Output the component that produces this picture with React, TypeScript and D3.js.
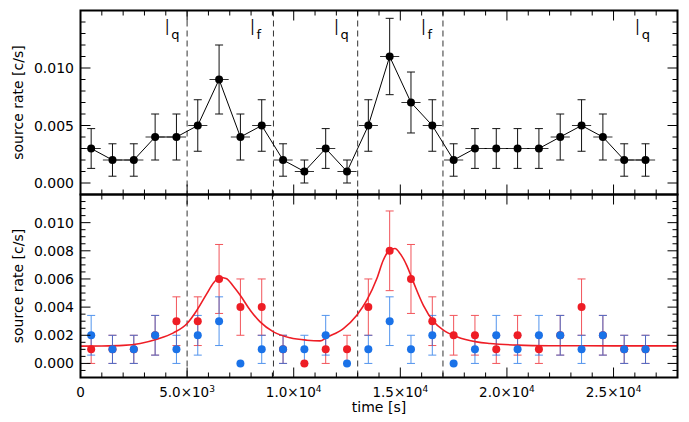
import React from "react";
import * as d3 from "d3";

const times = [500,1500,2500,3500,4500,5500,6500,7500,8500,9500,10500,11500,12500,13500,14500,15500,16500,17500,18500,19500,20500,21500,22500,23500,24500,25500,26500];
const totalRate = [0.003,0.002,0.002,0.004,0.004,0.005,0.009,0.004,0.005,0.002,0.001,0.003,0.001,0.005,0.011,0.007,0.005,0.002,0.003,0.003,0.003,0.003,0.004,0.005,0.004,0.002,0.002];
const totalErr = [0.00173,0.00141,0.00141,0.002,0.002,0.00224,0.003,0.002,0.00224,0.00141,0.001,0.00173,0.001,0.00224,0.00332,0.00265,0.00224,0.00141,0.00173,0.00173,0.00173,0.00173,0.002,0.00224,0.002,0.00141,0.00141];
const redRate = [0.001,0.001,0.001,0.002,0.003,0.003,0.006,0.004,0.004,0.001,0,0.001,0.001,0.004,0.008,0.006,0.003,0.002,0.002,0.001,0.002,0.001,0.002,0.004,0.002,0.001,0.001];
const redErr = [0.001,0.001,0.001,0.00141,0.00173,0.00173,0.00245,0.002,0.002,0.001,0,0.001,0.001,0.002,0.00283,0.00245,0.00173,0.00141,0.00141,0.001,0.00141,0.001,0.00141,0.002,0.00141,0.001,0.001];
const blueRate = [0.002,0.001,0.001,0.002,0.001,0.002,0.003,0,0.001,0.001,0.001,0.002,0,0.001,0.003,0.001,0.002,0,0.001,0.002,0.001,0.002,0.002,0.001,0.002,0.001,0.001];
const blueErr = [0.00141,0.001,0.001,0.00141,0.001,0.00141,0.00173,0,0.001,0.001,0.001,0.00141,0,0.001,0.00173,0.001,0.00141,0,0.001,0.00141,0.001,0.00141,0.00141,0.001,0.00141,0.001,0.001];
const binHalfWidth = 450;

const fitTime = [0,1000,2000,2800,3580,4360,5000,5460,5925,6235,6550,6830,7170,7490,7960,8425,9050,9830,10610,11240,11550,12330,12960,13430,13900,14200,14490,14750,14990,15300,15610,16080,16550,17020,17650,18580,19210,20500,22000,25000,28000];
const fitRate = [0.00123,0.00124,0.00128,0.00142,0.00172,0.00217,0.00284,0.00378,0.00496,0.00572,0.0061,0.00603,0.00548,0.00484,0.00378,0.00295,0.00224,0.00182,0.00165,0.0016,0.00185,0.00248,0.00343,0.00449,0.00603,0.00733,0.00804,0.00816,0.0078,0.00697,0.00579,0.00413,0.003,0.00236,0.00189,0.00153,0.00142,0.0013,0.00126,0.00125,0.00125];

const boundaries = [5000, 9050, 13000, 17000];
const stateLabelTimes = [4070, 8070, 12010, 16090, 26130];
const stateLabelSubs = ["q", "f", "q", "f", "q"];

const xTickValues = [0, 5000, 10000, 15000, 20000, 25000];
const xTickMantissa = ["0", "5.0", "1.0", "1.5", "2.0", "2.5"];
const xTickExp = ["", "3", "4", "4", "4", "4"];
const topYTicks = [0, 0.005, 0.01];
const topYLabels = ["0.000", "0.005", "0.010"];
const botYTicks = [0, 0.002, 0.004, 0.006, 0.008, 0.01];
const botYLabels = ["0.000", "0.002", "0.004", "0.006", "0.008", "0.010"];

const RED = "#ee1d25";
const BLUE = "#1a72e8";
const FONT = "DejaVu Sans, sans-serif";

export default function App() {
  const L = 80.5, R = 677.5;
  const x = d3.scaleLinear().domain([0, 28000]).range([L, R]);
  const yT = d3.scaleLinear().domain([-0.001, 0.015]).range([194.5, 10.5]);
  const yB = d3.scaleLinear().domain([-0.001, 0.012]).range([377.5, 194.5]);

  const xMinor = d3.range(0, 28001, 1000);
  const topMinor = d3.range(-0.001, 0.01501, 0.001);
  const botMinor = d3.range(-0.001, 0.01201, 0.0005);

  const panelTicks = (y: d3.ScaleLinear<number, number>, minor: number[], majorStep: number, key: string) => {
    const [y0, y1] = y.range();
    const out: React.ReactNode[] = [];
    xMinor.forEach((t, i) => {
      const major = t % 5000 === 0;
      const len = major ? 10 : 5;
      const xx = x(t);
      out.push(<line key={key + "xb" + i} x1={xx} x2={xx} y1={y0} y2={y0 - len} stroke="#000" strokeWidth={1} />);
      out.push(<line key={key + "xt" + i} x1={xx} x2={xx} y1={y1} y2={y1 + len} stroke="#000" strokeWidth={1} />);
    });
    minor.forEach((v, i) => {
      const r = Math.round(v / majorStep * 1000) / 1000;
      const major = Math.abs(r - Math.round(r)) < 1e-6;
      const len = major ? 10 : 5;
      const yy = y(v);
      out.push(<line key={key + "yl" + i} x1={L} x2={L + len} y1={yy} y2={yy} stroke="#000" strokeWidth={1} />);
      out.push(<line key={key + "yr" + i} x1={R} x2={R - len} y1={yy} y2={yy} stroke="#000" strokeWidth={1} />);
    });
    return out;
  };

  const topLine = d3.line<number>().x((_, i) => x(times[i])).y((v) => yT(v))(totalRate) || "";
  const fitLine = d3.line<number>().x((_, i) => x(fitTime[i])).y((v) => yB(v)).curve(d3.curveMonotoneX)(fitRate) || "";

  const errBars = (rates: number[], errs: number[], y: d3.ScaleLinear<number, number>, color: string, opacity: number, key: string, cap: number) =>
    rates.map((v, i) => {
      if (errs[i] <= 0) return null;
      const xx = x(times[i]);
      const hi = y(v + errs[i]);
      const lo = y(Math.max(0, v - errs[i]));
      return (
        <g key={key + i} stroke={color} strokeWidth={1} opacity={opacity}>
          <line x1={xx} x2={xx} y1={hi} y2={lo} />
          <line x1={xx - cap} x2={xx + cap} y1={hi} y2={hi} />
          <line x1={xx - cap} x2={xx + cap} y1={lo} y2={lo} />
        </g>
      );
    });

  const dots = (rates: number[], y: d3.ScaleLinear<number, number>, color: string, key: string) =>
    rates.map((v, i) => <circle key={key + i} cx={x(times[i])} cy={y(v)} r={4} fill={color} />);

  return (
    <svg width={689} height={422} style={{ position: "absolute", left: 0, top: 0, background: "#fff" }} fontFamily={FONT}>
      <rect x={0} y={0} width={689} height={422} fill="#fff" />

      {/* dashed boundaries */}
      {boundaries.map((b, i) => (
        <line key={"b" + i} x1={x(b)} x2={x(b)} y1={yT.range()[1]} y2={yB.range()[0]} stroke="#333" strokeWidth={1} strokeDasharray="6,4" />
      ))}

      {/* state labels */}
      {stateLabelTimes.map((t, i) => (
        <g key={"sl" + i}>
          <text transform={`translate(${x(t) - 1.8},34.5) scale(0.55,1)`} fontSize={21} fill="#000">I</text>
          <text x={x(t) + 4} y={39} fontSize={13} fill="#000">{stateLabelSubs[i]}</text>
        </g>
      ))}

      {/* top panel */}
      <path d={topLine} fill="none" stroke="#000" strokeWidth={1} />
      {totalRate.map((v, i) => (
        <line key={"hx" + i} x1={x(times[i] - binHalfWidth)} x2={x(times[i] + binHalfWidth)} y1={yT(v)} y2={yT(v)} stroke="#333" strokeWidth={1} />
      ))}
      {errBars(totalRate, totalErr, yT, "#111", 1, "te", 4)}
      {dots(totalRate, yT, "#000", "td")}

      {/* bottom panel */}
      {errBars(redRate, redErr, yB, RED, 0.75, "re", 4)}
      {errBars(blueRate, blueErr, yB, BLUE, 0.75, "be", 4)}
      <path d={fitLine} fill="none" stroke={RED} strokeWidth={1.6} />
      {dots(redRate, yB, RED, "rd")}
      {dots(blueRate, yB, BLUE, "bd")}

      {/* ticks and frames */}
      {panelTicks(yT, topMinor, 0.005, "t")}
      {panelTicks(yB, botMinor, 0.002, "b")}
      <rect x={L} y={yT.range()[1]} width={R - L} height={yT.range()[0] - yT.range()[1]} fill="none" stroke="#000" strokeWidth={2} />
      <rect x={L} y={yB.range()[1]} width={R - L} height={yB.range()[0] - yB.range()[1]} fill="none" stroke="#000" strokeWidth={2} />

      {/* y tick labels */}
      {topYTicks.map((v, i) => (
        <text key={"tyl" + i} x={74} y={yT(v) + 5} fontSize={14} textAnchor="end" fill="#000">{topYLabels[i]}</text>
      ))}
      {botYTicks.map((v, i) => (
        <text key={"byl" + i} x={74} y={yB(v) + 5} fontSize={14} textAnchor="end" fill="#000">{botYLabels[i]}</text>
      ))}

      {/* x tick labels */}
      {xTickValues.map((v, i) => (
        <text key={"xl" + i} x={x(v)} y={397} fontSize={13.5} textAnchor="middle" fill="#000">
          {xTickMantissa[i]}
          {xTickExp[i] ? "×10" : ""}
          {xTickExp[i] ? <tspan dy={-5} fontSize={9}>{xTickExp[i]}</tspan> : null}
        </text>
      ))}

      {/* axis titles */}
      <text x={(L + R) / 2} y={412} fontSize={14} textAnchor="middle" fill="#000">time [s]</text>
      <text transform={`translate(23,${(yT.range()[0] + yT.range()[1]) / 2}) rotate(-90)`} fontSize={14} textAnchor="middle" fill="#000">source rate [c/s]</text>
      <text transform={`translate(23,${(yB.range()[0] + yB.range()[1]) / 2}) rotate(-90)`} fontSize={14} textAnchor="middle" fill="#000">source rate [c/s]</text>
    </svg>
  );
}
